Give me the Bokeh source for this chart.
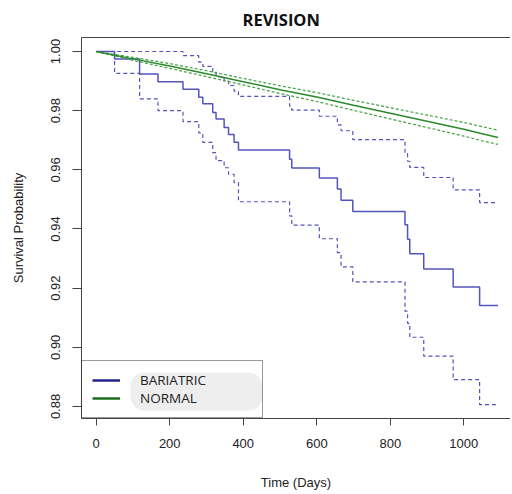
from bokeh.plotting import figure
from bokeh.models import Range1d, FixedTicker, LinearAxis, Legend, LegendItem, BoxAnnotation, CustomJSTickFormatter
from bokeh.embed import file_html
from bokeh.resources import INLINE

# ---- data ----
x_ticks = [0, 200, 400, 600, 800, 1000]
y_ticks = [0.88, 0.90, 0.92, 0.94, 0.96, 0.98, 1.00]

bar_t = [0, 50, 118, 168, 236, 279, 290, 317, 326, 348, 360, 375, 387, 526, 532,
         607, 656, 666, 698, 840, 847, 853, 891, 971, 1043, 1093]
bar_s = [1.0, 0.9975, 0.9924, 0.9898, 0.9872, 0.9845, 0.9823, 0.9794, 0.9772, 0.9743,
         0.9719, 0.9693, 0.9667, 0.9636, 0.9606, 0.9572, 0.9535, 0.9497, 0.9459, 0.9414,
         0.9365, 0.9316, 0.9265, 0.9204, 0.9141, 0.9141]
bar_up = [1.0, 1.0, 1.0, 1.0, 0.9986, 0.9964, 0.9950, 0.9932, 0.9915, 0.9900,
          0.9885, 0.9866, 0.9848, 0.9815, 0.9802, 0.9781, 0.9752, 0.9732, 0.9702, 0.9655,
          0.9629, 0.9608, 0.9574, 0.9532, 0.9489, 0.9489]
bar_lo = [1.0, 0.9926, 0.9840, 0.9800, 0.9763, 0.9725, 0.9693, 0.9658, 0.9631, 0.9607,
          0.9585, 0.9557, 0.9492, 0.9444, 0.9413, 0.9367, 0.9320, 0.9272, 0.9221, 0.9122,
          0.9081, 0.9034, 0.8970, 0.8891, 0.8806, 0.8806]

norm_t = [0, 100, 200, 300, 400, 500, 600, 700, 800, 900, 1000, 1050, 1093]
norm_s = [1.0, 0.9975, 0.9951, 0.9925, 0.9898, 0.9871, 0.9846, 0.9818, 0.9791, 0.9764,
          0.9737, 0.9722, 0.9709]
norm_up = [1.0, 0.9980, 0.9959, 0.9935, 0.9909, 0.9884, 0.9861, 0.9835, 0.9810, 0.9785,
           0.9760, 0.9746, 0.9734]
norm_lo = [1.0, 0.9970, 0.9943, 0.9915, 0.9887, 0.9858, 0.9831, 0.9801, 0.9772, 0.9743,
           0.9714, 0.9698, 0.9686]

labels = ["BARIATRIC", "NORMAL"]
title_text = "REVISION"

BLUE = "#5454be"
GREEN = "#2b8a2b"
GREEN_CI = "#45a045"
AXIS = "#444444"
TXT = "#222222"
NAN = float("nan")

p = figure(width=510, height=492, output_backend="svg", toolbar_location=None,
           x_range=Range1d(-40, 1127), y_range=Range1d(0.87593, 1.00473),
           min_border_left=81, min_border_right=0, min_border_top=37, min_border_bottom=74)
p.outline_line_color = None
p.grid.visible = False
p.background_fill_color = "white"

# title
p.title.text = title_text
p.title.text_font = "Open Sans"
p.title.text_font_style = "bold"
p.title.text_font_size = "16.5px"
p.title.text_color = "#111111"
p.title.align = "left"
p.title.offset = 161
p.title.standoff = 12
p.title.vertical_align = "middle"

# axes
xa = p.xaxis[0]
xa.ticker = FixedTicker(ticks=x_ticks)
xa.axis_line_color = AXIS
xa.major_tick_line_color = AXIS
xa.major_tick_out = 7
xa.major_tick_in = 0
xa.minor_tick_out = 0
xa.minor_tick_in = 0
xa.major_label_text_font = "Liberation Sans"
xa.major_label_text_font_size = "13px"
xa.major_label_text_color = TXT
xa.major_label_standoff = 13
xa.axis_label = "Time (Days)"
xa.axis_label_text_font = "Liberation Sans"
xa.axis_label_text_font_style = "normal"
xa.axis_label_text_font_size = "13px"
xa.axis_label_text_color = TXT
xa.axis_label_standoff = 24

ya = p.yaxis[0]
ya.ticker = FixedTicker(ticks=y_ticks)
ya.formatter = CustomJSTickFormatter(code="return tick.toFixed(2);")
ya.axis_line_color = AXIS
ya.major_tick_line_color = AXIS
ya.major_tick_out = 9
ya.major_tick_in = 0
ya.minor_tick_out = 0
ya.minor_tick_in = 0
ya.major_label_orientation = "vertical"
ya.major_label_text_font = "Liberation Sans"
ya.major_label_text_font_size = "13px"
ya.major_label_text_color = TXT
ya.major_label_standoff = 12
ya.axis_label = "Survival Probability"
ya.axis_label_text_font = "Liberation Sans"
ya.axis_label_text_font_style = "normal"
ya.axis_label_text_font_size = "13px"
ya.axis_label_text_color = TXT
ya.axis_label_standoff = 23

# top border line (tick-less axis)
top = LinearAxis(ticker=FixedTicker(ticks=[]), axis_line_color=AXIS,
                 major_tick_out=0, major_tick_in=0, minor_tick_out=0, minor_tick_in=0,
                 major_label_text_font_size="0px")
p.add_layout(top, "above")

# curves
p.step(bar_t, bar_up, mode="after", line_color=BLUE, line_width=1.2, line_dash="4 3")
p.step(bar_t, bar_lo, mode="after", line_color=BLUE, line_width=1.2, line_dash="4 3")
p.step(bar_t, bar_s, mode="after", line_color=BLUE, line_width=1.5)

p.line(norm_t, norm_up, line_color=GREEN_CI, line_width=1.2, line_dash="3 2")
p.line(norm_t, norm_lo, line_color=GREEN_CI, line_width=1.2, line_dash="3 2")
p.line(norm_t, norm_s, line_color=GREEN, line_width=1.5)

# legend (swatch renderers carry no visible data)
leg_b = p.line(x=[NAN, NAN], y=[NAN, NAN], line_color="#22228c", line_width=2.5)
leg_n = p.line(x=[NAN, NAN], y=[NAN, NAN], line_color="#1e6e1e", line_width=2.5)

blob = BoxAnnotation(left=130, right=262, top=372, bottom=410,
                     left_units="canvas", right_units="canvas",
                     top_units="canvas", bottom_units="canvas",
                     fill_color="#eeeeee", fill_alpha=1.0, line_color=None,
                     border_radius=14)
p.add_layout(blob)

legend = Legend(items=[LegendItem(label=labels[0], renderers=[leg_b]),
                       LegendItem(label=labels[1], renderers=[leg_n])],
                location="bottom_left", margin=0, padding=10, spacing=0,
                glyph_width=28, glyph_height=18, label_height=18, label_width=112,
                label_standoff=20, label_text_font="Open Sans",
                label_text_font_size="13.5px", label_text_color="#222222",
                border_line_color="#333333", border_line_width=1,
                background_fill_alpha=0.0)
p.add_layout(legend, "center")

open("out.html", "w").write(file_html(p, INLINE))
